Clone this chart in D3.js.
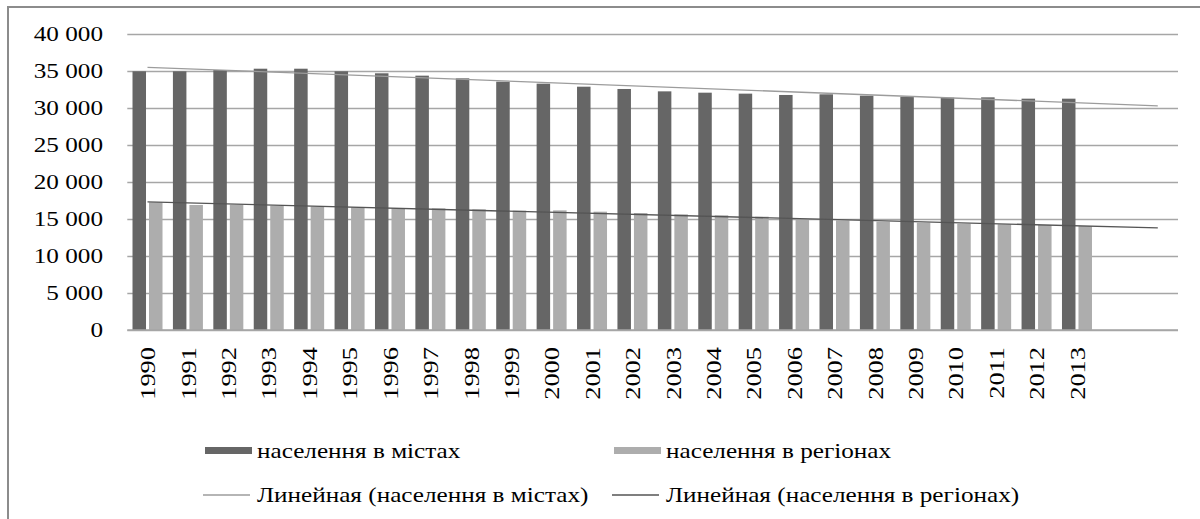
<!DOCTYPE html>
<html>
<head>
<meta charset="utf-8">
<script src="https://cdn.jsdelivr.net/npm/d3@7"></script>
</head>
<body style="margin:0;background:#fff">
<div id="chart"></div>
<script>
/* Data */
const years = ["1990", "1991", "1992", "1993", "1994", "1995", "1996", "1997", "1998", "1999",
               "2000", "2001", "2002", "2003", "2004", "2005", "2006", "2007", "2008", "2009",
               "2010", "2011", "2012", "2013"];
const cities = [34960, 34960, 35130, 35310, 35310, 34960, 34690, 34370, 34010, 33560,
                33290, 32880, 32570, 32250, 32070, 31940, 31760, 31850, 31670, 31530,
                31400, 31440, 31260, 31260];
const regions = [17255, 16890, 16940, 16800, 16670, 16580, 16440, 16440, 16310, 16130,
                 16170, 15990, 15810, 15630, 15500, 15315, 14980, 14800, 14635, 14500,
                 14365, 14280, 14190, 14050];
const yTicks = [0, 5000, 10000, 15000, 20000, 25000, 30000, 35000, 40000];
const forecastPeriods = 2;
const seriesNames = ["населення в містах", "населення в регіонах"];
const trendNames = ["Линейная (населення в містах)", "Линейная (населення в регіонах)"];

/* Linear trend (least squares over category index) */
function linearTrend(values) {
    const n = values.length;
    let sx = 0, sy = 0, sxy = 0, sxx = 0;
    values.forEach((v, i) => { sx += i; sy += v; sxy += i * v; sxx += i * i; });
    const slope = (n * sxy - sx * sy) / (n * sxx - sx * sx);
    const intercept = (sy - slope * sx) / n;
    return { slope, intercept };
}

const W = 1200, H = 519;
const stretch = 1.2; // text in the source is drawn wider than normal
const svg = d3.select("#chart").append("svg")
    .attr("width", W).attr("height", H)
    .attr("font-family", "'Liberation Serif', 'Times New Roman', serif");

svg.append("rect").attr("width", W).attr("height", H).attr("fill", "#fff");
/* outer chart frame (cropped on the right and bottom) */
svg.append("rect")
    .attr("x", 8).attr("y", 7).attr("width", 1400).attr("height", 700)
    .attr("fill", "none").attr("stroke", "#8c8c8c").attr("stroke-width", 2);

const slots = d3.range(years.length + forecastPeriods);
const x = d3.scaleBand().domain(slots).range([127.3, 1178]).padding(0);
const y = d3.scaleLinear().domain([0, 40000]).range([330, 34]);

const fmt = d3.formatLocale({ decimal: ",", thousands: " ", grouping: [3], currency: ["", ""] }).format(",d");

/* gridlines */
svg.append("g")
    .attr("transform", `translate(${x.range()[0]},0)`)
    .call(d3.axisLeft(y).tickValues(yTicks).tickSize(-(x.range()[1] - x.range()[0])).tickFormat(""))
    .call(g => g.select(".domain").remove())
    .selectAll("line").attr("stroke", "#a6a6a6").attr("stroke-width", 1.5);

/* y tick labels */
svg.append("g").selectAll("text")
    .data(yTicks)
    .join("text")
      .attr("transform", d => `translate(103,${y(d)}) scale(${stretch},1)`)
      .attr("dy", "0.35em")
      .attr("text-anchor", "end")
      .style("font-family", "'Liberation Serif', serif")
      .style("font-size", "21px")
      .text(d => fmt(d));

/* bars */
const barW = 13.5, gap = 1.5;
svg.append("g").selectAll("rect")
    .data(cities)
    .join("rect")
      .attr("x", (d, i) => x(i) + x.bandwidth() / 2 - gap - barW)
      .attr("y", d => y(d))
      .attr("width", barW)
      .attr("height", d => y(0) - y(d))
      .attr("fill", "#666666");
svg.append("g").selectAll("rect")
    .data(regions)
    .join("rect")
      .attr("x", (d, i) => x(i) + x.bandwidth() / 2 + gap)
      .attr("y", d => y(d))
      .attr("width", barW)
      .attr("height", d => y(0) - y(d))
      .attr("fill", "#adadad");

/* x axis */
svg.append("line")
    .attr("x1", x.range()[0]).attr("x2", x.range()[1])
    .attr("y1", y(0)).attr("y2", y(0))
    .attr("stroke", "#a6a6a6").attr("stroke-width", 1.5);

svg.append("g").selectAll("text")
    .data(years)
    .join("text")
      .attr("transform", (d, i) => `translate(${x(i) + x.bandwidth() / 2},347) rotate(-90) scale(${stretch},1)`)
      .attr("dy", "0.35em")
      .attr("text-anchor", "end")
      .style("font-family", "'Liberation Serif', serif")
      .style("font-size", "22px")
      .text(d => d);

/* trend lines */
const trendColors = ["#9c9c9c", "#555555"];
[cities, regions].forEach((vals, k) => {
    const { slope, intercept } = linearTrend(vals);
    const last = slots.length - 1;
    svg.append("line")
        .attr("x1", x(0) + x.bandwidth() / 2)
        .attr("y1", y(intercept))
        .attr("x2", x(last) + x.bandwidth() / 2)
        .attr("y2", y(intercept + slope * last))
        .attr("stroke", trendColors[k])
        .attr("stroke-width", 1.3);
});

/* legend */
const legendX = [205, 614];
const barColors = ["#666666", "#adadad"];
seriesNames.forEach((name, k) => {
    svg.append("rect")
        .attr("x", legendX[k]).attr("y", 447)
        .attr("width", 47).attr("height", 7)
        .attr("fill", barColors[k]);
    svg.append("text")
        .attr("transform", `translate(${legendX[k] + 52},451) scale(${stretch},1)`)
        .attr("dy", "0.35em")
        .style("font-family", "'Liberation Serif', serif")
        .style("font-size", "21px")
        .text(name);
});
trendNames.forEach((name, k) => {
    svg.append("line")
        .attr("x1", legendX[k] - 2).attr("x2", legendX[k] + 45)
        .attr("y1", 495).attr("y2", 495)
        .attr("stroke", trendColors[k]).attr("stroke-width", 1.3);
    svg.append("text")
        .attr("transform", `translate(${legendX[k] + 52},495) scale(${stretch},1)`)
        .attr("dy", "0.35em")
        .style("font-family", "'Liberation Serif', serif")
        .style("font-size", "21px")
        .text(name);
});
</script>
</body>
</html>
